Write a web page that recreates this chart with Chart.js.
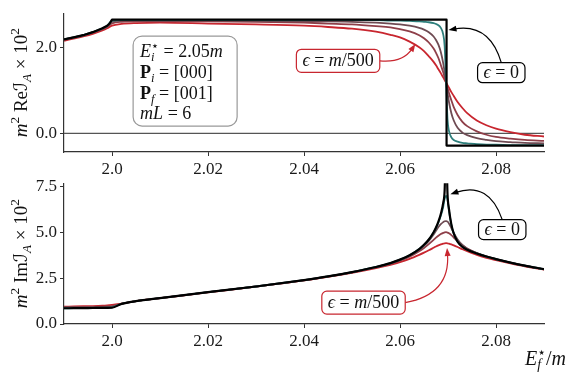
<!DOCTYPE html>
<html>
<head>
<meta charset="utf-8">
<script src="https://cdn.jsdelivr.net/npm/chart.js"></script>
<style>
  body { margin: 0; background: #fff; }
  #wrap { position: relative; width: 581px; height: 384px; }
  canvas { position: absolute; left: 0; }
</style>
</head>
<body>
<div id="wrap">
  <canvas id="top" width="581" height="180" style="top:0"></canvas>
  <canvas id="bottom" width="581" height="214" style="top:170px"></canvas>
</div>
<script>
// shared x grid for the broadened curves (E_f*/m)
const xs = [1.99, 1.992, 1.994, 1.996, 1.998, 1.999, 2.0, 2.002, 2.005, 2.01, 2.02, 2.03, 2.04, 2.045, 2.05,
  2.055, 2.058, 2.06, 2.062, 2.064, 2.065, 2.066, 2.067, 2.0675, 2.068, 2.0685, 2.069, 2.0693, 2.0696, 2.0699,
  2.0702, 2.0707, 2.0712, 2.072, 2.073, 2.074, 2.076, 2.078, 2.08, 2.083, 2.086, 2.09];

// Re part, epsilon = 0 (has its own x values because of the vertical step)
const reBlackX = [1.99, 1.992, 1.994, 1.996, 1.998, 1.999, 1.9995, 2.0, 2.03, 2.0697, 2.0697, 2.09];
const reBlack = [2.18, 2.23, 2.28, 2.35, 2.44, 2.50, 2.55, 2.64, 2.64, 2.64, -0.28, -0.28];

// Re part, increasing epsilon (teal smallest, red = m/500)
const reTeal = [2.18, 2.23, 2.28, 2.35, 2.44, 2.50, 2.62, 2.63, 2.63, 2.63, 2.63, 2.63, 2.63, 2.63, 2.63,
  2.63, 2.62, 2.62, 2.61, 2.60, 2.59, 2.58, 2.56, 2.54, 2.51, 2.45, 2.30, 2.03, 1.18, 0.33,
  0.06, -0.09, -0.15, -0.19, -0.22, -0.23, -0.25, -0.26, -0.26, -0.27, -0.27, -0.27];
const reBrown1 = [2.18, 2.23, 2.28, 2.35, 2.43, 2.49, 2.59, 2.62, 2.62, 2.62, 2.62, 2.61, 2.60, 2.60, 2.59,
  2.57, 2.55, 2.53, 2.50, 2.45, 2.41, 2.35, 2.25, 2.17, 2.06, 1.89, 1.63, 1.42, 1.18, 0.94,
  0.73, 0.47, 0.30, 0.13, 0.02, -0.04, -0.11, -0.15, -0.18, -0.20, -0.22, -0.23];
const reBrown2 = [2.17, 2.22, 2.27, 2.34, 2.42, 2.47, 2.55, 2.59, 2.60, 2.60, 2.60, 2.59, 2.57, 2.55, 2.53,
  2.49, 2.46, 2.42, 2.37, 2.28, 2.21, 2.11, 1.97, 1.87, 1.75, 1.59, 1.42, 1.30, 1.18, 1.06,
  0.94, 0.77, 0.61, 0.43, 0.27, 0.17, 0.05, -0.03, -0.08, -0.12, -0.15, -0.17];
const reRed = [2.15, 2.20, 2.25, 2.31, 2.39, 2.44, 2.50, 2.54, 2.56, 2.57, 2.55, 2.53, 2.50, 2.47, 2.43,
  2.36, 2.29, 2.23, 2.13, 2.00, 1.91, 1.79, 1.66, 1.58, 1.49, 1.40, 1.30, 1.24, 1.18, 1.12,
  1.06, 0.96, 0.87, 0.73, 0.59, 0.47, 0.30, 0.19, 0.11, 0.03, -0.03, -0.07];

// Im part
const imBlack = [0.86, 0.865, 0.87, 0.875, 0.88, 0.885, 0.89, 1.10, 1.25, 1.42, 1.74, 2.05, 2.40, 2.60, 2.84,
  3.12, 3.33, 3.52, 3.76, 4.10, 4.33, 4.62, 5.02, 5.28, 5.60, 6.02, 6.62, 7.3, 10.0, 7.1,
  6.3, 5.45, 4.95, 4.50, 4.22, 4.06, 3.86, 3.69, 3.55, 3.36, 3.19, 3.00];
const imTeal = [0.86, 0.865, 0.87, 0.875, 0.88, 0.89, 0.91, 1.10, 1.25, 1.42, 1.74, 2.05, 2.40, 2.60, 2.84,
  3.12, 3.33, 3.52, 3.76, 4.10, 4.33, 4.61, 5.0, 5.25, 5.55, 5.92, 6.40, 6.85, 7.0, 6.8,
  6.2, 5.42, 4.94, 4.50, 4.22, 4.06, 3.86, 3.69, 3.55, 3.36, 3.19, 3.00];
const imBrown1 = [0.89, 0.895, 0.90, 0.905, 0.91, 0.92, 0.94, 1.10, 1.25, 1.41, 1.74, 2.05, 2.40, 2.60, 2.83,
  3.11, 3.31, 3.50, 3.73, 4.06, 4.28, 4.55, 4.90, 5.10, 5.30, 5.46, 5.57, 5.62, 5.63, 5.60,
  5.50, 5.25, 4.98, 4.62, 4.32, 4.12, 3.88, 3.70, 3.55, 3.36, 3.19, 3.00];
const imBrown2 = [0.92, 0.93, 0.935, 0.94, 0.95, 0.96, 0.98, 1.11, 1.25, 1.41, 1.74, 2.05, 2.39, 2.59, 2.82,
  3.09, 3.29, 3.46, 3.68, 3.98, 4.16, 4.37, 4.60, 4.72, 4.83, 4.92, 4.98, 5.01, 5.02, 5.00,
  4.96, 4.86, 4.73, 4.52, 4.30, 4.13, 3.88, 3.69, 3.54, 3.35, 3.18, 2.99];
const imRed = [0.95, 0.96, 0.97, 0.98, 1.0, 1.02, 1.05, 1.12, 1.25, 1.41, 1.73, 2.04, 2.38, 2.58, 2.80,
  3.06, 3.24, 3.38, 3.56, 3.78, 3.90, 4.03, 4.17, 4.24, 4.30, 4.35, 4.39, 4.41, 4.42, 4.41,
  4.39, 4.35, 4.30, 4.21, 4.09, 3.98, 3.78, 3.62, 3.49, 3.31, 3.15, 2.98];

const zeroX = [1.99, 2.09];
const zeroY = [0, 0];

// ticks
const xTicks = [2.0, 2.02, 2.04, 2.06, 2.08];
const xTickLabels = ['2.0', '2.02', '2.04', '2.06', '2.08'];
const reTicks = [0, 2];
const reTickLabels = ['0.0', '2.0'];
const imTicks = [0, 2.5, 5, 7.5];
const imTickLabels = ['0.0', '2.5', '5.0', '7.5'];

const FF = '"Liberation Serif", "DejaVu Serif", "DejaVu Sans", serif';
const COLORS = { black: '#000000', teal: '#2e7f7c', brown1: '#6e4b53', brown2: '#8e3f49', red: '#c8262f' };
const AXIS = '#333333';

function pts(xArr, yArr) {
  return xArr.map((x, i) => ({ x: x, y: yArr[i] }));
}

function line(data, color, width, smooth) {
  return {
    data: data,
    borderColor: color,
    borderWidth: width,
    pointRadius: 0,
    fill: false,
    clip: 0,
    borderJoinStyle: 'round',
    cubicInterpolationMode: smooth ? 'monotone' : 'default',
    tension: 0
  };
}

function fontStr(st, size) {
  return (st === 'i' ? 'italic ' : st === 'b' ? 'bold ' : '') + size + 'px ' + FF;
}

// draws a list of [text, kind, overPrevious] pieces, kind: r i b sup sub supi subi
function drawRuns(ctx, parts, x, y, size, align) {
  const items = parts.map(p => {
    const k = p[1];
    let st = 'r', s = size, dy = 0;
    if (k === 'i' || k === 'b') st = k;
    if (k.indexOf('sup') === 0) { s = size * 0.7; dy = -size * 0.4; st = k === 'supi' ? 'i' : 'r'; }
    if (k.indexOf('sub') === 0) { s = size * 0.7; dy = size * 0.22; st = k === 'subi' ? 'i' : 'r'; }
    ctx.font = fontStr(st, s);
    return { t: p[0], f: ctx.font, dy: dy, w: ctx.measureText(p[0]).width, over: !!p[2] };
  });
  let pos = 0, prevStart = 0, prevW = 0;
  items.forEach(it => {
    if (it.over) {
      it.x = prevStart;
      pos = prevStart + Math.max(prevW, it.w);
    } else {
      it.x = pos; prevStart = pos; prevW = it.w; pos += it.w;
    }
  });
  const start = align === 'center' ? x - pos / 2 : align === 'right' ? x - pos : x;
  ctx.textAlign = 'left';
  ctx.textBaseline = 'alphabetic';
  items.forEach(it => {
    ctx.font = it.f;
    ctx.fillText(it.t, start + it.x, y + it.dy);
  });
  return pos;
}

function measureRuns(ctx, parts, size) {
  ctx.save();
  ctx.globalAlpha = 0;
  const w = drawRuns(ctx, parts, -1000, -1000, size, 'left');
  ctx.restore();
  return w;
}

function roundBox(ctx, x, y, w, h, r, stroke, lw) {
  ctx.beginPath();
  ctx.roundRect(x, y, w, h, r);
  ctx.fillStyle = '#ffffff';
  ctx.fill();
  ctx.lineWidth = lw;
  ctx.strokeStyle = stroke;
  ctx.stroke();
}

// curved arrow like matplotlib arc3
function arrow(ctx, sx, sy, ex, ey, rad, color) {
  const mx = (sx + ex) / 2, my = (sy + ey) / 2, dx = ex - sx, dy = ey - sy;
  const cx = mx + rad * dy, cy = my - rad * dx;
  const ang = Math.atan2(ey - cy, ex - cx);
  const hl = 8, hw = 3;
  ctx.strokeStyle = color;
  ctx.fillStyle = color;
  ctx.lineWidth = 1.2;
  ctx.beginPath();
  ctx.moveTo(sx, sy);
  ctx.quadraticCurveTo(cx, cy, ex - hl * 0.7 * Math.cos(ang), ey - hl * 0.7 * Math.sin(ang));
  ctx.stroke();
  ctx.beginPath();
  ctx.moveTo(ex, ey);
  ctx.lineTo(ex - hl * Math.cos(ang) + hw * Math.sin(ang), ey - hl * Math.sin(ang) - hw * Math.cos(ang));
  ctx.lineTo(ex - hl * Math.cos(ang) - hw * Math.sin(ang), ey - hl * Math.sin(ang) + hw * Math.cos(ang));
  ctx.closePath();
  ctx.fill();
}

const epsRed = [['\u03f5', 'i'], [' = ', 'r'], ['m', 'i'], ['/500', 'r']];
const epsZero = [['\u03f5', 'i'], [' = 0', 'r']];

// labelled box with arrow: box centre and arrow tip in data units
function note(chart, parts, color, bx, by, tx, ty, side, rad, h) {
  const ctx = chart.ctx;
  const sx = chart.scales.x, sy = chart.scales.y;
  const cx = sx.getPixelForValue(bx), cy = sy.getPixelForValue(by);
  const size = 18;
  const w = measureRuns(ctx, parts, size) + 12;
  const ex = sx.getPixelForValue(tx), ey = sy.getPixelForValue(ty);
  const ax = side === 'right' ? cx + w / 2 : cx;
  const ay = side === 'right' ? cy : cy - h / 2;
  arrow(ctx, ax, ay, ex, ey, rad, color);
  roundBox(ctx, cx - w / 2, cy - h / 2, w, h, 5, color, 1.2);
  ctx.fillStyle = '#111';
  drawRuns(ctx, parts, cx, cy + 5.5, size, 'center');
}

function yTitle(chart, parts) {
  const ctx = chart.ctx;
  const a = chart.chartArea;
  ctx.save();
  ctx.translate(27, (a.top + a.bottom) / 2);
  ctx.rotate(-Math.PI / 2);
  ctx.fillStyle = '#111';
  drawRuns(ctx, parts, 0, 0, 19, 'center');
  ctx.restore();
}

const topNotes = {
  id: 'topNotes',
  afterDraw(chart) {
    const ctx = chart.ctx;
    ctx.save();
    yTitle(chart, [['m', 'i'], ['2', 'sup'], [' Re', 'r'], ['\u2110', 'r'], ['A', 'subi'], [' \u00d7 10', 'r'], ['2', 'sup']]);
    // parameter box
    const bx = chart.scales.x.getPixelForValue(2.0044);
    const by = chart.scales.y.getPixelForValue(2.26);
    roundBox(ctx, bx, by, 104, 90, 9, '#999999', 1.2);
    ctx.fillStyle = '#111';
    const lines = [
      [['E', 'i'], ['i', 'subi'], ['\u22c6', 'sup', true], [' = 2.05', 'r'], ['m', 'i']],
      [['P', 'b'], ['i', 'subi'], [' = [000]', 'r']],
      [['P', 'b'], ['f', 'subi'], [' = [001]', 'r']],
      [['mL', 'i'], [' = 6', 'r']]
    ];
    const offs = [21, 42, 63, 83];
    lines.forEach((l, i) => drawRuns(ctx, l, bx + 7, by + offs[i], 18, 'left'));
    note(chart, epsRed, COLORS.red, 2.0471, 1.685, 2.0632, 2.075, 'right', -0.3, 23);
    note(chart, epsZero, '#000', 2.0811, 1.41, 2.0701, 2.40, 'top', -0.45, 20);
    ctx.restore();
  }
};

const bottomNotes = {
  id: 'bottomNotes',
  afterDraw(chart) {
    const ctx = chart.ctx;
    ctx.save();
    yTitle(chart, [['m', 'i'], ['2', 'sup'], [' Im', 'r'], ['\u2110', 'r'], ['A', 'subi'], [' \u00d7 10', 'r'], ['2', 'sup']]);
    ctx.fillStyle = '#111';
    drawRuns(ctx, [['E', 'i'], ['f', 'subi'], ['\u22c6', 'sup', true], ['/', 'r'], ['m', 'i']], 566, 195, 20, 'right');
    note(chart, epsRed, COLORS.red, 2.0524, 1.17, 2.0698, 4.15, 'right', -0.45, 23);
    note(chart, epsZero, '#000', 2.0813, 5.16, 2.0705, 7.10, 'top', -0.5, 20);
    ctx.restore();
  }
};

function makeChart(id, datasets, yMin, yMax, yTicks, yLabels, padTop, padBottom, plugin) {
  return new Chart(document.getElementById(id), {
    type: 'line',
    data: { datasets: datasets },
    plugins: [plugin],
    options: {
      responsive: false,
      devicePixelRatio: 1,
      animation: false,
      layout: { padding: { left: 0, right: 37, top: padTop, bottom: padBottom } },
      plugins: { legend: { display: false }, tooltip: { enabled: false } },
      scales: {
        x: {
          type: 'linear',
          min: 1.99,
          max: 2.09,
          afterBuildTicks: s => { s.ticks = xTicks.map(v => ({ value: v })); },
          afterFit: s => { s.height = 26; },
          ticks: {
            callback: (v, i) => xTickLabels[i],
            autoSkip: false,
            maxRotation: 0,
            padding: 3,
            color: '#1a1a1a',
            font: { family: FF, size: 17 }
          },
          grid: { drawOnChartArea: false, drawTicks: true, tickLength: 4, color: AXIS },
          border: { color: AXIS, width: 1.2 }
        },
        y: {
          type: 'linear',
          min: yMin,
          max: yMax,
          afterBuildTicks: s => { s.ticks = yTicks.map(v => ({ value: v })); },
          afterFit: s => { s.width = 64; },
          ticks: {
            callback: (v, i) => yLabels[i],
            autoSkip: false,
            padding: 3,
            color: '#1a1a1a',
            font: { family: FF, size: 17 }
          },
          grid: { drawOnChartArea: false, drawTicks: true, tickLength: 4, color: AXIS },
          border: { color: AXIS, width: 1.2 }
        }
      }
    }
  });
}

makeChart('top', [
  line(pts(reBlackX, reBlack), COLORS.black, 2.2, false),
  line(pts(xs, reTeal), COLORS.teal, 1.8, true),
  line(pts(xs, reBrown1), COLORS.brown1, 1.8, true),
  line(pts(xs, reBrown2), COLORS.brown2, 1.8, true),
  line(pts(xs, reRed), COLORS.red, 1.8, true),
  line(pts(zeroX, zeroY), '#555555', 1.2, false)
], -0.43, 2.79, reTicks, reTickLabels, 12, 2, topNotes);

makeChart('bottom', [
  line(pts(xs, imBlack), COLORS.black, 2.2, true),
  line(pts(xs, imTeal), COLORS.teal, 1.8, true),
  line(pts(xs, imBrown1), COLORS.brown1, 1.8, true),
  line(pts(xs, imBrown2), COLORS.brown2, 1.8, true),
  line(pts(xs, imRed), COLORS.red, 1.8, true)
], 0, 7.7, imTicks, imTickLabels, 13, 34, bottomNotes);
</script>
</body>
</html>
